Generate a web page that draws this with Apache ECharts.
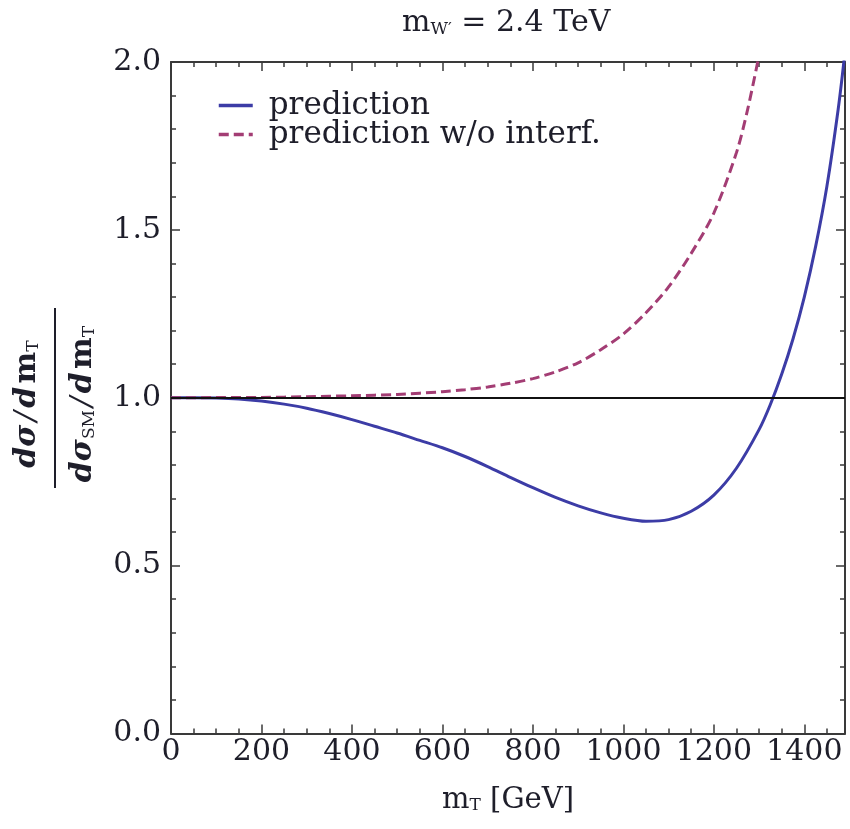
<!DOCTYPE html>
<html>
<head>
<meta charset="utf-8">
<script src="https://cdn.jsdelivr.net/npm/echarts@6/dist/echarts.min.js"></script>
<style>
  html, body { margin: 0; padding: 0; background: #fff; }
  #chart { width: 850px; height: 829px; }
</style>
</head>
<body>
<div id="chart"></div>
<script>
// Ratio of the differential cross section to the SM expectation vs transverse mass
const mtPrediction = [0, 50, 100, 150, 200, 250, 300, 350, 400, 450, 500, 550, 600, 650, 700, 750, 800, 850, 900, 950, 1000, 1050, 1100, 1150, 1200, 1250, 1300, 1325, 1350, 1375, 1400, 1425, 1450, 1475, 1490];
const ratioPrediction = [1.0, 1.0, 0.999, 0.996, 0.99, 0.981, 0.969, 0.953, 0.935, 0.915, 0.895, 0.873, 0.851, 0.825, 0.795, 0.763, 0.732, 0.703, 0.678, 0.657, 0.641, 0.632, 0.637, 0.662, 0.71, 0.79, 0.905, 0.98, 1.07, 1.175, 1.30, 1.45, 1.63, 1.86, 2.03];

const mtNoInterf = [0, 100, 200, 300, 400, 500, 600, 650, 700, 750, 800, 850, 900, 950, 1000, 1050, 1100, 1150, 1200, 1250, 1275, 1300];
const ratioNoInterf = [1.0, 1.0005, 1.001, 1.003, 1.006, 1.010, 1.018, 1.024, 1.032, 1.043, 1.057, 1.077, 1.104, 1.143, 1.19, 1.253, 1.33, 1.43, 1.55, 1.73, 1.86, 2.02];

const seriesNames = ['prediction', 'prediction w/o interf.'];
const referenceRatio = 1.0;

const xMin = 0, xMax = 1490, xMajor = 200, xMinor = 50;
const yMin = 0, yMax = 2.0, yMajor = 0.5;

const pairs = (xs, ys) => xs.map((x, i) => [x, ys[i]]);

const FONT = 'DejaVu Serif';
const TEXT = '#1e1e2a';
const FRAME = '#3a3a3a';
const TICK_FONT = 30;

function xAxisDef(position, interval, tickLen, withLabels, withLine) {
  return {
    type: 'value', position: position, min: xMin, max: xMax, interval: interval,
    axisLine: { show: withLine, onZero: false, lineStyle: { color: FRAME, width: 2 } },
    axisTick: { show: true, inside: true, length: tickLen, lineStyle: { color: FRAME, width: 1.5 } },
    axisLabel: {
      show: withLabels, showMaxLabel: false, margin: 4,
      fontFamily: FONT, fontSize: TICK_FONT, color: TEXT,
      formatter: v => String(v)
    },
    splitLine: { show: false }
  };
}

const xAxes = [
  Object.assign(xAxisDef('bottom', xMajor, 9, true, true), {
    name: 'm{sub|T} [GeV]', nameLocation: 'middle', nameGap: 52,
    nameTextStyle: {
      fontFamily: FONT, fontSize: 29, color: TEXT,
      rich: { sub: { fontFamily: FONT, fontSize: 17, color: TEXT, verticalAlign: 'bottom', padding: [12, 0, 0, 0] } }
    }
  }),
  xAxisDef('bottom', xMinor, 5, false, false),
  xAxisDef('top', xMajor, 9, false, true),
  xAxisDef('top', xMinor, 5, false, false)
];

function yAxisDef(position, withLabels) {
  return {
    type: 'value', position: position, min: yMin, max: yMax, interval: yMajor,
    axisLine: { show: true, onZero: false, lineStyle: { color: FRAME, width: 2 } },
    axisTick: { show: true, inside: true, length: 9, lineStyle: { color: FRAME, width: 1.5 } },
    minorTick: { show: true, splitNumber: 5, length: 5, lineStyle: { color: FRAME, width: 1.5 } },
    axisLabel: {
      show: withLabels, margin: 10, fontFamily: FONT, fontSize: TICK_FONT, color: TEXT,
      formatter: v => v.toFixed(1)
    },
    splitLine: { show: false }
  };
}

const fracRich = {
  bi: { fontFamily: FONT, fontSize: 30, fontWeight: 'bold', fontStyle: 'italic', fill: TEXT },
  b: { fontFamily: FONT, fontSize: 30, fontWeight: 'bold', fill: TEXT },
  r: { fontFamily: FONT, fontSize: 30, fontStyle: 'italic', fill: TEXT },
  sub: { fontFamily: FONT, fontSize: 17, fill: TEXT, verticalAlign: 'bottom', padding: [12, 0, 0, 0] }
};

const chart = echarts.init(document.getElementById('chart'), null, { renderer: 'canvas' });

chart.setOption({
  animation: false,
  backgroundColor: '#fff',
  title: {
    text: 'm{sub|W′} = 2.4 TeV',
    left: 397, top: 3,
    textStyle: {
      fontFamily: FONT, fontSize: 30, fontWeight: 'normal', color: TEXT,
      rich: { sub: { fontFamily: FONT, fontSize: 17, color: TEXT, verticalAlign: 'bottom', padding: [12, 0, 0, 0] } }
    }
  },
  grid: { left: 171, right: 5, top: 62, bottom: 95.5, containLabel: false },
  legend: {
    orient: 'vertical', left: 212, top: 85, itemGap: -2,
    itemWidth: 34, itemHeight: 10,
    itemStyle: { opacity: 0 },
    lineStyle: { width: 3.5 },
    textStyle: { fontFamily: FONT, fontSize: 31, color: TEXT, lineHeight: 28, padding: [0, 0, 0, 11] },
    data: seriesNames
  },
  xAxis: xAxes,
  yAxis: [yAxisDef('left', true), yAxisDef('right', false)],
  series: [
    {
      name: seriesNames[0], type: 'line', xAxisIndex: 0, yAxisIndex: 0,
      data: pairs(mtPrediction, ratioPrediction),
      smooth: 0.3, showSymbol: false, symbol: 'none', clip: true,
      lineStyle: { color: '#3c3ca6', width: 3 },
      itemStyle: { color: '#3c3ca6' },
      z: 3,
      markLine: {
        silent: true, symbol: 'none', label: { show: false },
        lineStyle: { color: '#111', width: 2, type: 'solid' },
        data: [{ yAxis: referenceRatio }]
      }
    },
    {
      name: seriesNames[1], type: 'line', xAxisIndex: 0, yAxisIndex: 0,
      data: pairs(mtNoInterf, ratioNoInterf),
      smooth: 0.3, showSymbol: false, symbol: 'none', clip: true,
      lineStyle: { color: '#a33d74', width: 3, type: [10, 5] },
      itemStyle: { color: '#a33d74' },
      z: 4
    }
  ],
  graphic: [
    {
      type: 'group', x: 55, y: 398, rotation: Math.PI / 2,
      children: [
        {
          type: 'text', x: -6, y: -28,
          style: {
            text: '{bi|dσ} {r|/} {bi|d} {b|m}{sub|T}',
            align: 'center', verticalAlign: 'middle', fill: TEXT, rich: fracRich
          }
        },
        {
          type: 'line',
          shape: { x1: -90, y1: 0, x2: 90, y2: 0 },
          style: { stroke: TEXT, lineWidth: 2 }
        },
        {
          type: 'text', x: -6, y: 28,
          style: {
            text: '{bi|dσ}{sub|SM} {r|/} {bi|d} {b|m}{sub|T}',
            align: 'center', verticalAlign: 'middle', fill: TEXT, rich: fracRich
          }
        }
      ]
    }
  ]
});
</script>
</body>
</html>
